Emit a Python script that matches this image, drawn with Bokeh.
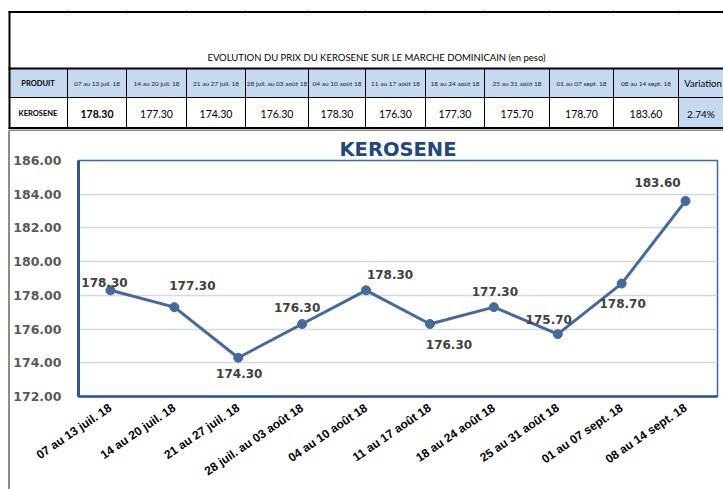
from bokeh.plotting import figure
from bokeh.layouts import column, row
from bokeh.models import Range1d, FactorRange, FixedTicker, NumeralTickFormatter, Spacer
from bokeh.core.properties import value
from bokeh.embed import file_html
from bokeh.resources import INLINE

# ---------------- data ----------------
weeks = ["07 au 13 juil. 18", "14 au 20 juil. 18", "21 au 27 juil. 18",
         "28 juil. au 03 août 18", "04 au 10 août 18", "11 au 17 août 18",
         "18 au 24 août 18", "25 au 31 août 18", "01 au 07 sept. 18",
         "08 au 14 sept. 18"]
prices = [178.30, 177.30, 174.30, 176.30, 178.30, 176.30, 177.30, 175.70, 178.70, 183.60]
y_ticks = [172, 174, 176, 178, 180, 182, 184, 186]
product = "KEROSENE"
chart_title = "KEROSENE"
table_title = "EVOLUTION DU PRIX DU KEROSENE SUR LE MARCHE DOMINICAIN (en peso)"
first_col = "PRODUIT"
last_col = "Variation"
variation = f"{(prices[-1] / prices[-2] - 1) * 100:.2f}%"

# ---------------- style ----------------
label_dx = [-6, 18, 1, -5, 24, 19, 1, -9, 1, -28]
label_dy = [-8, -22, 16, -17, -16, 20, -16, -15, 20, -18]
col_widths = [59, 59, 60, 59, 63, 57, 60, 59, 65, 64, 65, 45]
LEFT = 8
TFONT = "Lato"
PAGE_W = 723
TH = 131
CH = 489 - TH
HEADER_FILL = "#c5d9f1"
LINE_BLUE = "#44699c"

edges = [LEFT]
for w in col_widths:
    edges.append(edges[-1] + w)
centers = [(edges[i] + edges[i + 1]) / 2 for i in range(len(col_widths))]
n = len(col_widths)

# ---------------- table ----------------
tab = figure(width=PAGE_W, height=TH, x_range=Range1d(0, PAGE_W), y_range=Range1d(TH, 0),
             toolbar_location=None, output_backend="svg", min_border=0,
             x_axis_location=None, y_axis_location=None)
tab.grid.visible = False
tab.outline_line_color = None

tab.quad(left=edges[:-1], right=edges[1:], top=[68] * n, bottom=[97] * n,
         fill_color=HEADER_FILL, line_color=None)
tab.quad(left=[edges[-2]], right=[edges[-1]], top=[97], bottom=[127.5],
         fill_color=HEADER_FILL, line_color=None)
tab.segment(x0=[LEFT] * 4, x1=[PAGE_W] * 4, y0=[11.5, 68, 97, 127.5], y1=[11.5, 68, 97, 127.5],
            line_color="black", line_width=[2, 2, 1, 2])
tab.segment(x0=[LEFT + 1], x1=[LEFT + 1], y0=[10.5], y1=[128.5], line_color="black", line_width=2)
tab.segment(x0=edges[1:-1], x1=edges[1:-1], y0=[68] * (n - 1), y1=[127.5] * (n - 1),
            line_color="black", line_width=1)
tab.segment(x0=edges[1:-1], x1=edges[1:-1], y0=[9.5] * (n - 1), y1=[10.5] * (n - 1),
            line_color="#999999", line_width=1)
# gray border of the chart area (top)
tab.segment(x0=[LEFT], x1=[PAGE_W], y0=[130], y1=[130], line_color="#8c8c8c", line_width=2)

tab.text(x=[376], y=[57], text=[table_title], text_font=value(TFONT), text_font_size="9.5px",
         text_align="center", text_baseline="middle", text_color="black")
tab.text(x=[centers[0]], y=[83], text=[first_col], text_font=value(TFONT),
         text_font_size="7.5px", text_font_style="bold", text_align="center",
         text_baseline="middle", text_color="black")
tab.text(x=centers[1:-1], y=[83] * len(weeks), text=weeks, text_font=value(TFONT),
         text_font_size="6.5px", text_align="center", text_baseline="middle", text_color="#222222")
tab.text(x=[centers[-1] + 2], y=[83], text=[last_col], text_font=value(TFONT),
         text_font_size="9.5px", text_align="center", text_baseline="middle", text_color="black")
tab.text(x=[centers[0]], y=[113], text=[product], text_font=value(TFONT),
         text_font_size="7.5px", text_font_style="bold", text_align="center",
         text_baseline="middle", text_color="black")
tab.text(x=[centers[1]], y=[113], text=[f"{prices[0]:.2f}"], text_font=value(TFONT),
         text_font_size="10.5px", text_font_style="bold", text_align="center",
         text_baseline="middle", text_color="black")
tab.text(x=centers[2:-1], y=[113] * (len(prices) - 1), text=[f"{v:.2f}" for v in prices[1:]],
         text_font=value(TFONT), text_font_size="10.5px", text_align="center",
         text_baseline="middle", text_color="black")
tab.text(x=[centers[-1]], y=[113], text=[variation], text_font=value(TFONT),
         text_font_size="10px", text_align="center", text_baseline="middle", text_color="black")

# ---------------- chart ----------------
pad = Spacer(width=LEFT, height=CH)
strip = Spacer(width=2, height=CH, background="#8c8c8c")
CW = PAGE_W - LEFT - 2

ch = figure(width=CW, height=CH, x_range=FactorRange(factors=weeks),
            y_range=Range1d(172, 186), toolbar_location=None, output_backend="svg",
            min_border_left=68, min_border_right=6, min_border_top=29, min_border_bottom=93,
            title=chart_title)
ch.x_range.range_padding = 0
ch.title.align = "center"
ch.title.text_font = "DejaVu Sans"
ch.title.text_font_size = "19.5px"
ch.title.text_font_style = "bold"
ch.title.text_color = "#1f497d"
ch.title.standoff = 0

ch.yaxis.ticker = FixedTicker(ticks=y_ticks)
ch.yaxis.formatter = NumeralTickFormatter(format="0.00")
ch.yaxis.major_tick_line_color = None
ch.yaxis.minor_tick_line_color = None
ch.yaxis.major_tick_out = 0
ch.yaxis.major_tick_in = 0
ch.yaxis.minor_tick_out = 0
ch.yaxis.major_label_text_font = "DejaVu Sans"
ch.yaxis.major_label_text_font_style = "bold"
ch.yaxis.major_label_text_font_size = "12.5px"
ch.yaxis.major_label_text_color = "#595959"
ch.yaxis.major_label_standoff = 17
ch.yaxis.axis_line_color = "#2f5597"
ch.yaxis.axis_line_width = 3

ch.xaxis.major_label_orientation = 0.6
ch.xaxis.major_tick_line_color = None
ch.xaxis.minor_tick_line_color = None
ch.xaxis.major_tick_out = 0
ch.xaxis.major_tick_in = 0
ch.xaxis.minor_tick_out = 0
ch.xaxis.major_label_text_font = "Liberation Sans"
ch.xaxis.major_label_text_font_style = "bold"
ch.xaxis.major_label_text_font_size = "12px"
ch.xaxis.major_label_text_color = "black"
ch.xaxis.major_label_standoff = 10
ch.xaxis.axis_line_color = "#2f5597"
ch.xaxis.axis_line_width = 2.5

ch.xgrid.grid_line_color = None
ch.ygrid.grid_line_color = "#d9d9d9"
ch.ygrid.grid_line_width = 1.5
ch.outline_line_color = "#3d6aa5"
ch.outline_line_width = 1.5

ch.line(x=weeks, y=prices, line_color=LINE_BLUE, line_width=3)
ch.scatter(x=weeks, y=prices, size=9, fill_color=LINE_BLUE, line_color=LINE_BLUE)
ch.text(x=weeks, y=prices, text=[f"{v:.2f}" for v in prices], x_offset=label_dx, y_offset=label_dy,
        text_font=value("DejaVu Sans"), text_font_style="bold", text_font_size="12px",
        text_color="#404040", text_align="center", text_baseline="middle")

layout = column(tab, row(pad, strip, ch))
open("out.html", "w").write(file_html(layout, INLINE))
